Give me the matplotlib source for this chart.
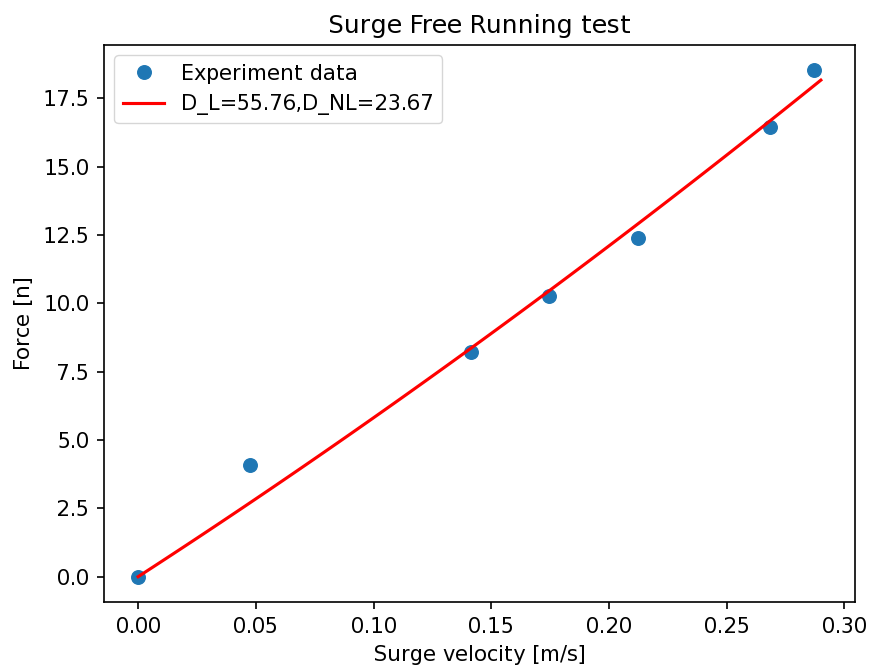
import numpy as np
import matplotlib
matplotlib.use("Agg")
import matplotlib.pyplot as plt

plt.rcParams['text.hinting'] = 'force_autohint'
plt.rcParams['text.hinting_factor'] = 1

velocity = [0.0, 0.0477, 0.1413, 0.1745, 0.2123, 0.2685, 0.2872]
force = [0.0, 4.09, 8.22, 10.27, 12.38, 16.43, 18.52]
D_L = 55.76
D_NL = 23.67
v_max = 0.29

S = 1.5
fig = plt.figure(figsize=(8.69, 6.71), dpi=100)
ax = fig.add_axes([104/869, 1-602/671, (855-104)/869, (602-45)/671])

ax.plot(velocity, force, 'o', color='#1f77b4', markersize=6.5*S, label='Experiment data')
v = np.linspace(0, v_max, 100)
ax.plot(v, D_L*v + D_NL*v*np.abs(v), color='red', linewidth=1.5*S, label='D_L=%.2f,D_NL=%.2f' % (D_L, D_NL))

ax.set_title('Surge Free Running test', fontsize=12*S, pad=6*S)
ax.set_xlabel('Surge velocity [m/s]', fontsize=10*S, labelpad=4*S)
ax.set_ylabel('Force [n]', fontsize=10*S, labelpad=4*S)
ax.tick_params(labelsize=10*S, length=3.5*S, width=0.8*S, pad=3.5*S)
for s in ax.spines.values():
    s.set_linewidth(0.8*S)
ax.legend(loc='upper left', fontsize=10*S)
fig.savefig('out.png', dpi=100)
